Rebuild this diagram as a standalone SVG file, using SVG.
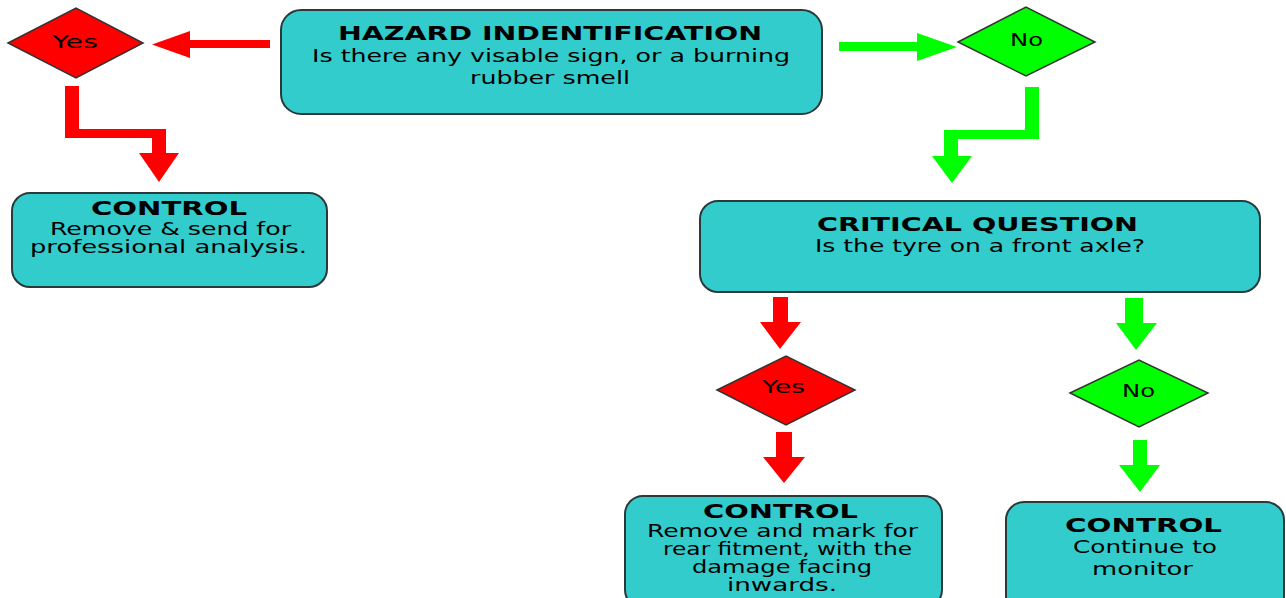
<svg xmlns="http://www.w3.org/2000/svg" width="1286" height="598" viewBox="0 0 1286 598">
<style>
.box{fill:#33CCCC;stroke:#2a3a3a;stroke-width:2}
.dred{fill:#FF0000;stroke:#333;stroke-width:1.5}
.dgreen{fill:#00FF00;stroke:#333;stroke-width:1.5}
.red{fill:#FF0000}
.green{fill:#00FF00}
text{font-family:"DejaVu Sans","Liberation Sans",sans-serif;fill:#000}
.t{font-size:20px;font-weight:bold}
.b{font-size:17.5px}
.s{font-size:17px}
.d{font-size:17px}
</style>
<rect width="1286" height="598" fill="#fff"/>
<g id="connectors">
<polygon class="red" points="270,40 190,40 190,31 152,44.5 190,58 190,48 270,48"/>
<polygon class="green" points="839,42 917,42 917,33 957,47 917,61 917,51 839,51"/>
<polygon class="red" points="65,86 79,86 79,129 166,129 166,153 179,153 159,182 139,153 152,153 152,138 65,138"/>
<polygon class="green" points="1025,87 1039,87 1039,139 958,139 958,156 972,156 952,183 932,156 944,156 944,130 1025,130"/>
<polygon class="red" points="773,297 788,297 788,322 801,322 780,349 760,322 773,322"/>
<polygon class="red" points="776,432 792,432 792,457 805,457 784,483 763,457 776,457"/>
<polygon class="green" points="1125,298 1143,298 1143,323 1157,323 1136,350 1116,323 1125,323"/>
<polygon class="green" points="1133,440 1147,440 1147,465 1160,465 1140,492 1119,465 1133,465"/>
</g>
<g id="hazard">
<rect class="box" x="281" y="10" width="541" height="104" rx="20"/>
<text class="t" x="338" y="40" textLength="424" lengthAdjust="spacingAndGlyphs">HAZARD INDENTIFICATION</text>
<text class="b" x="312" y="62" textLength="478" lengthAdjust="spacingAndGlyphs">Is there any visable sign, or a burning</text>
<text class="b" x="470" y="84" textLength="160" lengthAdjust="spacingAndGlyphs">rubber smell</text>
</g>
<g id="yes1">
<polygon class="dred" points="8,43 76,8 143,43 76,78"/>
<text class="d" x="52" y="48" textLength="46" lengthAdjust="spacingAndGlyphs">Yes</text>
</g>
<g id="no1">
<polygon class="dgreen" points="958,42 1026,7 1095,42 1026,76"/>
<text class="d" x="1010" y="46" textLength="33" lengthAdjust="spacingAndGlyphs">No</text>
</g>
<g id="control1">
<rect class="box" x="12" y="193" width="315" height="94" rx="18"/>
<text class="t" x="91" y="215" textLength="156" lengthAdjust="spacingAndGlyphs">CONTROL</text>
<text class="s" x="50" y="235" textLength="241" lengthAdjust="spacingAndGlyphs">Remove &amp; send for</text>
<text class="s" x="30" y="253" textLength="277" lengthAdjust="spacingAndGlyphs">professional analysis.</text>
</g>
<g id="critical">
<rect class="box" x="700" y="201" width="560" height="91" rx="18"/>
<text class="t" x="817" y="231" textLength="321" lengthAdjust="spacingAndGlyphs">CRITICAL QUESTION</text>
<text class="b" x="815" y="252" textLength="330" lengthAdjust="spacingAndGlyphs">Is the tyre on a front axle?</text>
</g>
<g id="yes2">
<polygon class="dred" points="717,390 786,356 855,390 786,425"/>
<text class="d" x="762" y="393" textLength="43" lengthAdjust="spacingAndGlyphs">Yes</text>
</g>
<g id="no2">
<polygon class="dgreen" points="1070,393 1139,360 1208,393 1139,427"/>
<text class="d" x="1122" y="397" textLength="33" lengthAdjust="spacingAndGlyphs">No</text>
</g>
<g id="control2">
<rect class="box" x="625" y="496" width="317" height="112" rx="18"/>
<text class="t" x="703" y="518" textLength="155" lengthAdjust="spacingAndGlyphs">CONTROL</text>
<text class="b" x="647" y="537" textLength="271" lengthAdjust="spacingAndGlyphs">Remove and mark for</text>
<text class="b" x="663" y="555" textLength="249" lengthAdjust="spacingAndGlyphs">rear fitment, with the</text>
<text class="b" x="692" y="573" textLength="180" lengthAdjust="spacingAndGlyphs">damage facing</text>
<text class="b" x="727" y="591" textLength="110" lengthAdjust="spacingAndGlyphs">inwards.</text>
</g>
<g id="control3">
<rect class="box" x="1006" y="502" width="278" height="112" rx="18"/>
<text class="t" x="1065" y="532" textLength="157" lengthAdjust="spacingAndGlyphs">CONTROL</text>
<text class="b" x="1073" y="553" textLength="144" lengthAdjust="spacingAndGlyphs">Continue to</text>
<text class="b" x="1092" y="575" textLength="101" lengthAdjust="spacingAndGlyphs">monitor</text>
</g>
</svg>
